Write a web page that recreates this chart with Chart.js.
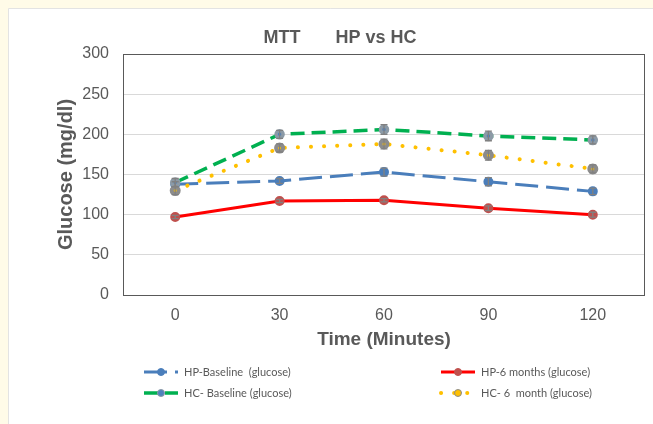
<!DOCTYPE html>
<html lang="en">
<head>
  <meta charset="UTF-8">
  <title>MTT HP vs HC</title>
  <script src="https://cdn.jsdelivr.net/npm/chart.js"></script>
  <style>
    html, body { margin: 0; padding: 0; background: #fffbe8; }
    canvas { display: block; }
  </style>
</head>
<body>
  <canvas id="mttChart" width="653" height="424"></canvas>

  <script>
    // time points (minutes)
    const timeLabels = ['0', '30', '60', '90', '120'];

    // mean glucose (mg/dl) and error bar half-heights
    const hpBaseline = [138, 142, 153, 141, 129];
    const hpBaselineErr = [3, 3, 5, 5, 4];
    const hp6Months = [97, 117, 118, 108, 100];
    const hp6MonthsErr = [2, 2, 2, 3, 3];
    const hcBaseline = [140, 200, 206, 198, 193];
    const hcBaselineErr = [5, 5, 6, 6, 5];
    const hc6Month = [130, 183, 188, 174, 157];
    const hc6MonthErr = [5, 5, 6, 6, 5];

    const seriesNames = ['HP-Baseline  (glucose)', 'HP-6 months (glucose)', 'HC- Baseline (glucose)', 'HC- 6  month (glucose)'];
    const grey = '#595959';

    // white panel on the pale yellow page
    const panelBg = {
      id: 'panelBg',
      beforeDraw(chart) {
        const ctx = chart.ctx;
        ctx.save();
        ctx.fillStyle = '#fffbe8';
        ctx.fillRect(0, 0, chart.width, chart.height);
        ctx.fillStyle = '#ffffff';
        ctx.fillRect(9, 9, chart.width - 9, chart.height - 9);
        ctx.strokeStyle = '#e3e3e3';
        ctx.lineWidth = 1;
        ctx.beginPath();
        ctx.moveTo(8.5, chart.height);
        ctx.lineTo(8.5, 8.5);
        ctx.lineTo(chart.width, 8.5);
        ctx.stroke();
        ctx.restore();
      },
      beforeDatasetsDraw(chart) {
        // plot frame
        const ctx = chart.ctx;
        const a = chart.chartArea;
        ctx.save();
        ctx.strokeStyle = '#595959';
        ctx.lineWidth = 1;
        ctx.strokeRect(Math.round(a.left) + 0.5, Math.round(a.top) + 0.5, a.right - a.left - 1, a.bottom - a.top);
        ctx.restore();
      }
    };

    // grey error bars on top of the markers
    const errorBars = {
      id: 'errorBars',
      afterDatasetsDraw(chart) {
        const ctx = chart.ctx;
        const yScale = chart.scales.y;
        ctx.save();
        ctx.strokeStyle = '#808080';
        ctx.lineWidth = 1.3;
        chart.data.datasets.forEach((ds, i) => {
          const meta = chart.getDatasetMeta(i);
          meta.data.forEach((pt, j) => {
            const e = ds.errors[j];
            const yHi = yScale.getPixelForValue(ds.data[j] + e);
            const yLo = yScale.getPixelForValue(ds.data[j] - e);
            ctx.beginPath();
            ctx.moveTo(pt.x, yHi); ctx.lineTo(pt.x, yLo);
            ctx.moveTo(pt.x - 3.5, yHi); ctx.lineTo(pt.x + 3.5, yHi);
            ctx.moveTo(pt.x - 3.5, yLo); ctx.lineTo(pt.x + 3.5, yLo);
            ctx.stroke();
          });
        });
        ctx.restore();
      }
    };

    // two-column legend under the x axis title
    const legendSpots = [[144, 372], [441, 372], [144, 393], [441, 393]];
    const sideLegend = {
      id: 'sideLegend',
      afterDraw(chart) {
        const ctx = chart.ctx;
        ctx.save();
        chart.data.datasets.forEach((ds, i) => {
          const [x, y] = legendSpots[i];
          ctx.strokeStyle = ds.borderColor;
          ctx.lineWidth = ds.borderWidth;
          ctx.lineCap = ds.borderCapStyle || 'butt';
          ctx.setLineDash(ds.borderDash || []);
          ctx.beginPath();
          ctx.moveTo(x, y); ctx.lineTo(x + 34, y);
          ctx.stroke();
          ctx.setLineDash([]);
          ctx.beginPath();
          ctx.arc(x + 17, y, 3.5, 0, Math.PI * 2);
          ctx.fillStyle = ds.pointBackgroundColor;
          ctx.fill();
          ctx.lineWidth = 1;
          ctx.strokeStyle = ds.pointBorderColor;
          ctx.stroke();
          ctx.fillStyle = grey;
          ctx.font = '11px Lato, "Liberation Sans", sans-serif';
          ctx.textBaseline = 'middle';
          ctx.fillText(ds.label, x + 40, y);
        });
        ctx.restore();
      }
    };

    new Chart(document.getElementById('mttChart'), {
      type: 'line',
      data: {
        labels: timeLabels,
        datasets: [
          { label: seriesNames[0], data: hpBaseline, errors: hpBaselineErr, order: 4,
            borderColor: '#4a7ebb', borderWidth: 3, borderDash: [23, 8],
            pointBackgroundColor: '#4a7ebb', pointBorderColor: '#4a7ebb', pointRadius: 3.5 },
          { label: seriesNames[1], data: hp6Months, errors: hp6MonthsErr, order: 3,
            borderColor: '#ff0000', borderWidth: 3,
            pointBackgroundColor: '#c0504d', pointBorderColor: '#c0504d', pointRadius: 3.5 },
          { label: seriesNames[2], data: hcBaseline, errors: hcBaselineErr, order: 2,
            borderColor: '#00b050', borderWidth: 3.5, borderDash: [14, 7],
            pointBackgroundColor: '#4f81bd', pointBorderColor: '#8c9aa6', pointRadius: 3.5 },
          { label: seriesNames[3], data: hc6Month, errors: hc6MonthErr, order: 1,
            borderColor: '#ffc000', borderWidth: 4, borderDash: [0.1, 13], borderCapStyle: 'round',
            pointBackgroundColor: '#ffc000', pointBorderColor: '#8c8c8c', pointRadius: 3.5 }
        ]
      },
      options: {
        responsive: false,
        animation: false,
        devicePixelRatio: 1,
        layout: { padding: { top: 8, left: 32, right: 5, bottom: 69 } },
        plugins: {
          legend: { display: false },
          tooltip: { enabled: false },
          title: {
            display: true,
            text: 'MTT       HP vs HC',
            color: grey,
            font: { family: '"Liberation Sans", Arial, sans-serif', size: 18, weight: 'bold' },
            padding: { top: 19, bottom: 5.4 }
          }
        },
        scales: {
          x: {
            type: 'category',
            offset: true,
            grid: { display: false, drawTicks: false },
            border: { display: false },
            ticks: { color: grey, padding: 11, font: { family: '"Liberation Sans", Arial, sans-serif', size: 16 } },
            title: {
              display: true, text: 'Time (Minutes)', color: grey,
              font: { family: '"Liberation Sans", Arial, sans-serif', size: 19, weight: 'bold' },
              padding: { top: 0, bottom: 3.6 }
            },
            afterFit(scale) { scale.height = 60; }
          },
          y: {
            min: 0, max: 300,
            ticks: { stepSize: 50, color: grey, padding: 14, font: { family: '"Liberation Sans", Arial, sans-serif', size: 16 } },
            grid: { color: '#d9d9d9', drawTicks: false },
            border: { display: false },
            title: {
              display: true, text: 'Glucose (mg/dl)', color: grey,
              font: { family: '"Liberation Sans", Arial, sans-serif', size: 20, weight: 'bold' },
              padding: { top: 22, bottom: 0 }
            },
            afterFit(scale) { scale.width = 91; }
          }
        }
      },
      plugins: [panelBg, errorBars, sideLegend]
    });
  </script>
</body>
</html>
